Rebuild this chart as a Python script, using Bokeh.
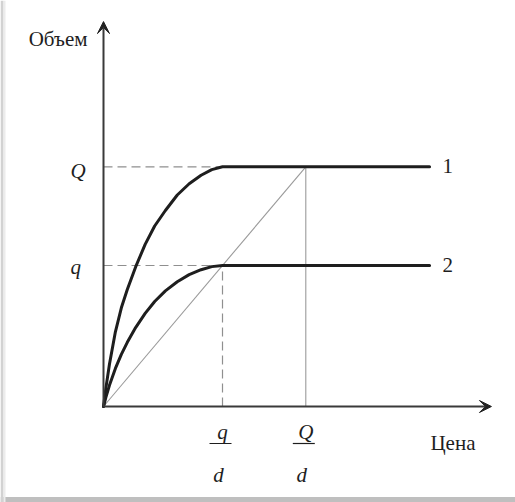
from bokeh.plotting import figure
from bokeh.models import Arrow, VeeHead, Range1d
from bokeh.core.properties import value
from bokeh.embed import file_html
from bokeh.resources import INLINE

# ---- data (q = 1, Q = 1.7, d = 1) ----
q_level = 1.0
Q_level = 1.7
d_val = 1.0
x_ticks = [q_level / d_val, Q_level / d_val]      # q/d, Q/d
x_tick_num = ["q", "Q"]
x_tick_den = ["d", "d"]
y_ticks = [q_level, Q_level]
y_tick_labels = ["q", "Q"]

curve1_x = [0, 0.02, 0.05, 0.10, 0.15, 0.20, 0.27, 0.35, 0.43, 0.52, 0.62, 0.72, 0.82, 0.91, 1.0, 2.74]
curve1_y = [0, 0.13, 0.30, 0.53, 0.70, 0.83, 0.99, 1.15, 1.28, 1.39, 1.50, 1.58, 1.64, 1.68, 1.70, 1.70]
curve2_x = [0, 0.02, 0.05, 0.10, 0.15, 0.20, 0.27, 0.35, 0.43, 0.52, 0.62, 0.72, 0.82, 0.91, 1.0, 2.74]
curve2_y = [0, 0.065, 0.15, 0.27, 0.37, 0.455, 0.56, 0.66, 0.745, 0.82, 0.885, 0.935, 0.97, 0.992, 1.0, 1.0]
curve_labels = ["1", "2"]
x_label = "Цена"
y_label = "Объем"
x_axis_end = 3.26
y_axis_end = 2.73

# ---- layout ----
W, H = 515, 502
PX_X, PX_Y = 119.0, 141.0
ORIGIN_X, ORIGIN_Y = 103.0, 96.0

p = figure(width=W, height=H,
           x_range=Range1d(-ORIGIN_X / PX_X, (W - ORIGIN_X) / PX_X),
           y_range=Range1d(-ORIGIN_Y / PX_Y, (H - ORIGIN_Y) / PX_Y),
           output_backend="svg", toolbar_location=None,
           x_axis_location=None, y_axis_location=None,
           min_border=0, outline_line_color=None,
           background_fill_color="white", border_fill_color="white")
p.grid.grid_line_color = None

FONT = value("Liberation Serif")
FS = "21px"
INK = "#1e1e1e"
GUIDE = "#8f8f8f"

# card shadows (bottom and left)
p.quad(left=[-ORIGIN_X / PX_X], right=[(W - ORIGIN_X) / PX_X],
       bottom=[-ORIGIN_Y / PX_Y], top=[-(ORIGIN_Y - 5.5) / PX_Y],
       fill_color="#bfbfbf", line_color=None)
p.quad(left=[-ORIGIN_X / PX_X], right=[-(ORIGIN_X - 3.0) / PX_X],
       bottom=[-ORIGIN_Y / PX_Y], top=[(H - ORIGIN_Y) / PX_Y],
       fill_color="#d2d2d2", line_color=None)
p.quad(left=[-(ORIGIN_X - 3.0) / PX_X], right=[-(ORIGIN_X - 5.0) / PX_X],
       bottom=[-ORIGIN_Y / PX_Y], top=[(H - ORIGIN_Y) / PX_Y],
       fill_color="#ececec", line_color=None)

# guide lines
p.segment(x0=[0, 0], y0=y_ticks, x1=[x_ticks[0], x_ticks[0]], y1=y_ticks,
          line_color=GUIDE, line_width=1.2, line_dash="9 5")
p.segment(x0=[x_ticks[0]], y0=[0], x1=[x_ticks[0]], y1=[y_ticks[0]],
          line_color=GUIDE, line_width=1.2, line_dash="9 5")
p.segment(x0=[x_ticks[1]], y0=[0], x1=[x_ticks[1]], y1=[y_ticks[1]],
          line_color="#9a9a9a", line_width=1.1)
p.line(x=[0, x_ticks[1]], y=[0, y_ticks[1]], line_color="#9a9a9a", line_width=1.1)

# curves
p.line(x=curve1_x, y=curve1_y, line_color=INK, line_width=3, line_join="round", line_cap="round")
p.line(x=curve2_x, y=curve2_y, line_color=INK, line_width=3, line_join="round", line_cap="round")

# axes
p.add_layout(Arrow(end=VeeHead(size=12, fill_color="#222", line_color="#222", line_width=1),
                   x_start=0, y_start=0, x_end=x_axis_end, y_end=0,
                   line_color="#3a3a3a", line_width=2))
p.add_layout(Arrow(end=VeeHead(size=12, fill_color="#222", line_color="#222", line_width=1),
                   x_start=0, y_start=0, x_end=0, y_end=y_axis_end,
                   line_color="#3a3a3a", line_width=2))

# y tick labels
p.text(x=[0, 0], y=y_ticks, text=y_tick_labels, text_font=FONT, text_font_size=FS,
       text_font_style="italic", text_align="left", text_baseline="alphabetic",
       x_offset=-33, y_offset=[1, 4], text_color=INK)

# x tick labels as fractions
p.text(x=x_ticks, y=[0, 0], text=x_tick_num, text_font=FONT, text_font_size=FS,
       text_font_style="italic", text_align="center", text_baseline="alphabetic",
       x_offset=0, y_offset=25, text_color=INK)
p.text(x=x_ticks, y=[0, 0], text=x_tick_den, text_font=FONT, text_font_size=FS,
       text_font_style="italic", text_align="center", text_baseline="alphabetic",
       x_offset=-4, y_offset=68, text_color=INK)
bar_y = -37.0 / PX_Y
p.segment(x0=[t - 13.0 / PX_X for t in x_ticks], y0=[bar_y, bar_y],
          x1=[t + 9.0 / PX_X for t in x_ticks], y1=[bar_y, bar_y],
          line_color=INK, line_width=1.2)

# curve labels
p.text(x=[curve1_x[-1], curve2_x[-1]], y=[curve1_y[-1], curve2_y[-1]], text=curve_labels,
       text_font=FONT, text_font_size=FS, text_align="left", text_baseline="alphabetic",
       x_offset=13, y_offset=-1, text_color=INK)

# axis titles
p.text(x=[x_axis_end], y=[0], text=[x_label], text_font=FONT, text_font_size=FS,
       text_align="left", text_baseline="alphabetic", x_offset=-61, y_offset=36, text_color=INK)
p.text(x=[0], y=[y_axis_end], text=[y_label], text_font=FONT, text_font_size=FS,
       text_align="right", text_baseline="alphabetic", x_offset=-16, y_offset=17, text_color=INK)

open("out.html", "w").write(file_html(p, INLINE))
